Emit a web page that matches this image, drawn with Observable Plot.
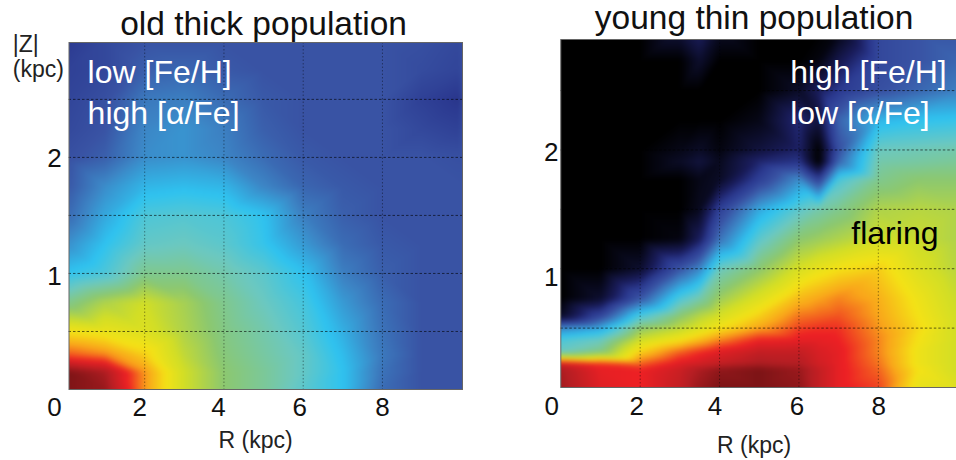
<!DOCTYPE html>
<html><head><meta charset="utf-8">
<script src="https://cdn.jsdelivr.net/npm/d3@7"></script>
<script src="https://cdn.jsdelivr.net/npm/@observablehq/plot@0.6"></script>
<style>
html,body{margin:0;padding:0;background:#fff;width:956px;height:460px;overflow:hidden}
#row{display:flex;width:956px;height:460px}
svg{display:block;overflow:visible;font-family:"Liberation Sans",Arial,sans-serif}
</style></head><body><div id="row"></div>
<script>
// colour key of the picture: value -> colour
const levels=[0,0.12,0.18,0.25,0.33,0.42,0.5,0.58,0.66,0.72,0.78,0.86,0.94,1];
const colours=["#000000","#1a1d5c","#2b3990","#3953a4","#3c86c6","#2fc3f0","#6cc8c0","#8cc870","#d2de26","#f4e216","#f9a61a","#ed2024","#b51e23","#7d1416"];

// old thick population
const leftR=[0,1,2,3,4,5,6,7,8,9,10];
const leftZ=[3,2.75,2.5,2.25,2,1.75,1.5,1.25,1,0.75,0.5,0.3,0.15,0];
const leftV=[
[.18,.22,.25,.25,.25,.25,.25,.25,.25,.24,.22],
[.20,.22,.27,.28,.26,.25,.25,.25,.25,.23,.21],
[.21,.24,.31,.32,.29,.26,.25,.25,.25,.20,.17],
[.22,.25,.33,.35,.32,.27,.25,.25,.25,.22,.20],
[.24,.27,.34,.35,.33,.29,.26,.25,.25,.25,.24],
[.25,.34,.40,.41,.40,.33,.28,.26,.25,.25,.25],
[.28,.38,.46,.47,.46,.42,.32,.27,.25,.25,.25],
[.34,.42,.49,.50,.48,.43,.36,.29,.26,.25,.25],
[.42,.46,.55,.55,.52,.48,.42,.32,.27,.25,.25],
[.55,.62,.66,.61,.55,.50,.45,.36,.29,.25,.25],
[.72,.70,.68,.62,.56,.52,.47,.39,.30,.25,.25],
[.83,.80,.74,.64,.57,.53,.49,.41,.31,.25,.25],
[1,.95,.79,.66,.58,.54,.49,.42,.30,.25,.25],
[1,.97,.79,.66,.58,.54,.48,.42,.29,.25,.25]];

// young thin population
const rightR=[0,1,2,3,3.5,4,5,6,6.5,7,8,9,10];
const rightZ=[3,2.75,2.5,2.25,2,1.9,1.75,1.5,1.25,1,0.75,0.6,0.5,0.4,0.3,0.2,0.15,0];
const rightV=[
[0,0,0,.08,.13,.05,0,0,0,.02,.22,.25,.25],
[0,0,0,0,.06,0,0,0,.02,.10,.22,.25,.28],
[0,0,0,0,0,0,0,.05,.12,.18,.24,.28,.32],
[0,0,0,0,0,0,.03,.15,.08,.28,.40,.42,.43],
[0,0,0,.03,.05,.02,.08,.13,0,.24,.50,.51,.52],
[0,0,0,.05,.08,.04,.14,.17,0,.28,.52,.53,.54],
[0,0,0,0,.03,.05,.20,.34,.20,.46,.55,.58,.58],
[0,0,0,0,.04,.20,.38,.48,.52,.55,.62,.63,.62],
[0,0,0,.02,.12,.30,.48,.58,.60,.62,.66,.65,.62],
[0,0,.06,.25,.33,.50,.58,.67,.70,.72,.74,.68,.63],
[0,.06,.25,.46,.52,.60,.68,.76,.78,.80,.77,.71,.65],
[.05,.22,.46,.58,.63,.67,.74,.81,.82,.83,.78,.72,.66],
[.33,.38,.58,.64,.68,.72,.78,.84,.85,.85,.79,.73,.66],
[.46,.50,.66,.72,.76,.80,.86,.87,.87,.86,.80,.72,.66],
[.50,.56,.74,.82,.85,.88,.92,.92,.89,.87,.80,.71,.66],
[.90,.85,.82,.88,.90,.92,.95,.94,.90,.87,.81,.71,.66],
[.95,.87,.86,.91,.95,.98,1,.97,.92,.87,.82,.72,.66],
[.96,.88,.86,.92,.97,1,1,.98,.92,.87,.84,.70,.68]];

const xTicks=[0,2,4,6,8];
const yTicks=[1,2];

function cells(Rs,Zs,V){
  const out=[];
  Zs.forEach((z,i)=>Rs.forEach((r,j)=>out.push({r,z,v:V[i][j]})));
  return out;
}
function panel(o){
  const marks=[
    Plot.raster(cells(o.Rs,o.Zs,o.V),{x:"r",y:"z",fill:"v",interpolate:"barycentric",blur:2}),
    Plot.gridX(xTicks.filter(d=>d>0),{stroke:"#000",strokeOpacity:.4,strokeDasharray:"1.5,2"}),
    Plot.gridY([0.5,1,1.5,2,2.5],{stroke:"#000",strokeOpacity:.6,strokeDasharray:"2.5,2"}),
    Plot.frame({stroke:"#666",strokeWidth:1}),
    ...xTicks.map((t,i)=>Plot.axisX([t],{anchor:"bottom",tickSize:0,tickPadding:o.xPad,dx:o.xShift[i],fontSize:26,label:null,tickFormat:d=>String(d),fill:"#111"})),
    ...yTicks.map((t,i)=>Plot.axisY([t],{anchor:"left",tickSize:0,tickPadding:o.yPad,dy:o.yShift[i],fontSize:26,label:null,tickFormat:d=>String(d),textAnchor:"middle",fill:"#111"})),
    ...o.extra
  ];
  return Plot.plot({width:478,height:460,marginLeft:o.ml,marginRight:o.mr,marginTop:o.mt,marginBottom:o.mb,
    x:{domain:o.xd,axis:null},y:{domain:o.yd,axis:null},
    color:{type:"linear",domain:levels,range:colours,clamp:true},
    style:{background:"transparent",fontFamily:"Liberation Sans"},marks});
}
const t=(s,x,y,opt)=>Plot.text([s],{x:()=>x,y:()=>y,text:d=>d,textAnchor:"start",lineAnchor:"bottom",fontSize:32,...opt});
const left=panel({Rs:leftR,Zs:leftZ,V:leftV,ml:68.5,mr:16,mt:42,mb:71,xd:[0.09,10.02],yd:[0,2.99],
  xPad:8.5,xShift:[-11,-5,-5.5,-3.5,0],yPad:14.5,yShift:[3,1],
  extra:[
   t("old thick population",5,2.99,{textAnchor:"middle",dy:-8,fontSize:33.5,fill:"#111"}),
   t("low [Fe/H]",0.56,2.64,{fill:"#fff"}),
   t("high [α/Fe]",0.56,2.29,{fill:"#fff"}),
   t("|Z|",-1.33,2.91,{fontSize:23,fill:"#222"}),
   t("(kpc)",-1.33,2.69,{fontSize:23,fill:"#222"}),
   t("R (kpc)",4.8,0,{textAnchor:"middle",dy:58,fontSize:23,fill:"#222"})
  ]});
const right=panel({Rs:rightR,Zs:rightZ,V:rightV,ml:82.3,mr:0,mt:39,mb:73,xd:[0,9.97],yd:[0,2.93],
  xPad:9,xShift:[-9,-3.5,-4.5,-2,0.5],yPad:9.5,yShift:[9,3],
  extra:[
   t("young thin population",4.87,2.93,{textAnchor:"middle",dy:-11,fontSize:33.5,fill:"#111"}),
   t("high [Fe/H]",5.78,2.56,{fill:"#fff"}),
   t("low [α/Fe]",5.78,2.22,{fill:"#fff"}),
   t("flaring",7.32,1.21,{fill:"#000"}),
   t("R (kpc)",4.87,0,{textAnchor:"middle",dy:65,fontSize:23,fill:"#222"})
  ]});
document.getElementById("row").append(left,right);
</script></body></html>
